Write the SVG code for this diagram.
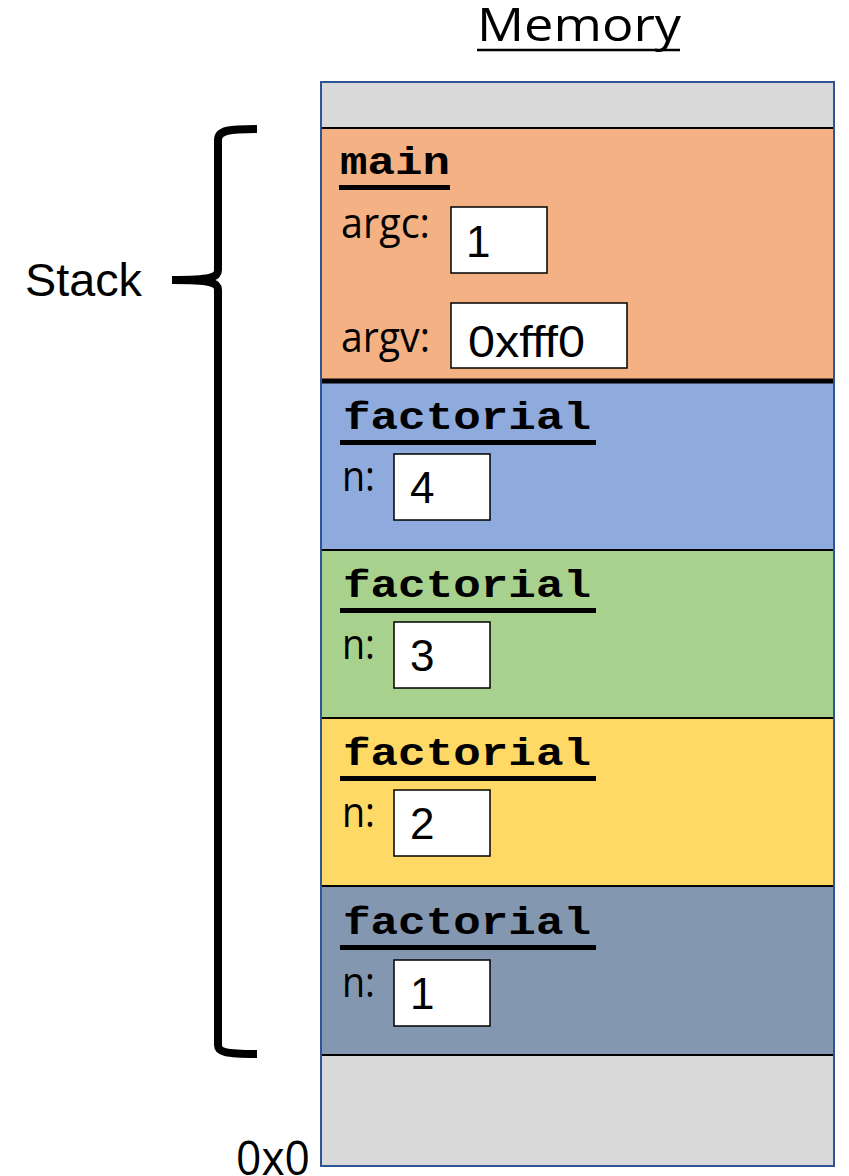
<svg xmlns="http://www.w3.org/2000/svg" width="849" height="1176" viewBox="0 0 849 1176">
<style>
.cal{font-family:"Open Sans","Noto Sans",sans-serif;fill:#000}
.ari{font-family:"Liberation Sans",Arial,sans-serif;fill:#000}
.mono{font-family:"Liberation Mono","Courier New",monospace;font-weight:bold;font-size:38px;fill:#000}
.box{fill:#fff;stroke:#000;stroke-width:1.5}
.sep{stroke:#000;stroke-width:2}
.num{font-family:"Liberation Sans",Arial,sans-serif;font-size:44px;fill:#000}
.lbl{font-family:"Open Sans","Noto Sans",sans-serif;font-size:42px;fill:#000}
</style>
<rect width="849" height="1176" fill="#fff"/>
<g id="title">
<text class="cal" x="477" y="41" font-size="46" textLength="204" lengthAdjust="spacingAndGlyphs">Memory</text>
<line x1="477" y1="50" x2="680" y2="50" stroke="#000" stroke-width="2.5"/>
</g>
<g id="memory">
<rect x="321" y="82" width="513" height="46" fill="#D9D9D9"/>
<rect x="321" y="1055" width="513" height="111" fill="#D9D9D9"/>
</g>
<g id="main">
<rect x="321" y="128" width="513" height="253" fill="#F4B183"/>
<text class="mono" x="340" y="174" textLength="110" lengthAdjust="spacingAndGlyphs">main</text>
<rect x="339" y="185" width="111" height="5" fill="#000"/>
<text class="lbl" x="341" y="238" textLength="89" lengthAdjust="spacingAndGlyphs">argc:</text>
<rect class="box" x="451" y="207" width="96" height="66"/>
<text class="num" x="466" y="257" font-size="48">1</text>
<text class="lbl" x="341" y="352" textLength="89" lengthAdjust="spacingAndGlyphs">argv:</text>
<rect class="box" x="451" y="303" width="176" height="65"/>
<text class="num" x="468" y="357" font-size="47" textLength="117" lengthAdjust="spacingAndGlyphs">0xfff0</text>
</g>
<g id="factorial4">
<rect x="321" y="381" width="513" height="169" fill="#8FAADC"/>
<text class="mono" x="343" y="429" textLength="248" lengthAdjust="spacingAndGlyphs">factorial</text>
<rect x="340" y="440" width="256" height="5" fill="#000"/>
<text class="lbl" x="342" y="491" textLength="33" lengthAdjust="spacingAndGlyphs">n:</text>
<rect class="box" x="394" y="454" width="96" height="66"/>
<text class="num" x="410" y="503">4</text>
</g>
<g id="factorial3">
<rect x="321" y="550" width="513" height="168" fill="#A9D18E"/>
<text class="mono" x="343" y="597" textLength="248" lengthAdjust="spacingAndGlyphs">factorial</text>
<rect x="340" y="608" width="256" height="5" fill="#000"/>
<text class="lbl" x="342" y="659" textLength="33" lengthAdjust="spacingAndGlyphs">n:</text>
<rect class="box" x="394" y="622" width="96" height="66"/>
<text class="num" x="410" y="671">3</text>
</g>
<g id="factorial2">
<rect x="321" y="718" width="513" height="168" fill="#FFD966"/>
<text class="mono" x="343" y="765" textLength="248" lengthAdjust="spacingAndGlyphs">factorial</text>
<rect x="340" y="776" width="256" height="5" fill="#000"/>
<text class="lbl" x="342" y="827" textLength="33" lengthAdjust="spacingAndGlyphs">n:</text>
<rect class="box" x="394" y="790" width="96" height="66"/>
<text class="num" x="410" y="839">2</text>
</g>
<g id="factorial1">
<rect x="321" y="886" width="513" height="169" fill="#8497B0"/>
<text class="mono" x="343" y="934" textLength="248" lengthAdjust="spacingAndGlyphs">factorial</text>
<rect x="340" y="945" width="256" height="5" fill="#000"/>
<text class="lbl" x="342" y="997" textLength="33" lengthAdjust="spacingAndGlyphs">n:</text>
<rect class="box" x="394" y="960" width="96" height="66"/>
<text class="num" x="410" y="1009">1</text>
</g>
<g id="dividers">
<line class="sep" x1="321" y1="128" x2="834" y2="128"/>
<line x1="321" y1="381" x2="834" y2="381" stroke="#000" stroke-width="5"/>
<line class="sep" x1="321" y1="550" x2="834" y2="550"/>
<line class="sep" x1="321" y1="718" x2="834" y2="718"/>
<line class="sep" x1="321" y1="886" x2="834" y2="886"/>
<line class="sep" x1="321" y1="1055" x2="834" y2="1055"/>
<rect x="321" y="82" width="513" height="1084" fill="none" stroke="#2F5597" stroke-width="2"/>
</g>
<g id="stack">
<path d="M257,129 C230,129 218,130 218,140 L218,270 C218,278 210,280 172,280 C210,280 218,282 218,290 L218,1045 C218,1052 225,1054 257,1054" fill="none" stroke="#000" stroke-width="8"/>
<text class="ari" x="25" y="296" font-size="46" textLength="117" lengthAdjust="spacingAndGlyphs">Stack</text>
</g>
<text class="cal" x="236" y="1175" font-size="48" textLength="74" lengthAdjust="spacingAndGlyphs">0x0</text>
</svg>
